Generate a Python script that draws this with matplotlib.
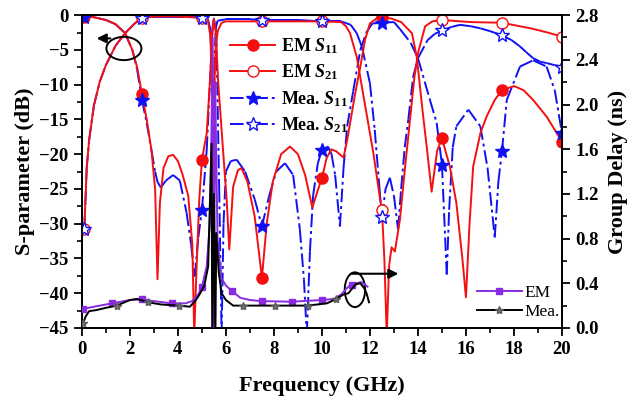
import numpy as np
import matplotlib
matplotlib.use("Agg")
import matplotlib.pyplot as plt
from matplotlib.collections import LineCollection
from matplotlib.lines import Line2D
from matplotlib.patches import Ellipse

plt.rcParams['font.family'] = 'Liberation Serif'
plt.rcParams['mathtext.fontset'] = 'custom'
plt.rcParams['mathtext.rm'] = 'Liberation Serif:bold'
plt.rcParams['mathtext.it'] = 'Liberation Serif:bold:italic'

# ---- S-parameters (dB) ----
em_s11_f = [0.1, 0.5, 1.0, 1.4, 1.8, 2.1, 2.3, 2.5, 2.7, 2.9, 3.05, 3.15, 3.25, 3.4, 3.6, 3.8,
            4.0, 4.2, 4.43, 4.6, 4.68, 4.78, 4.89, 5.0, 5.2, 5.33, 5.43, 5.5, 5.58, 5.68, 5.88,
            6.03, 6.14, 6.3, 6.5, 6.65, 6.9, 7.2, 7.5, 7.7, 7.95, 8.3, 8.67, 9.0, 9.3, 9.6, 9.8,
            10.0, 10.2, 10.4, 10.6, 10.9, 11.05, 11.2, 11.4, 11.6, 11.8, 12.0, 12.3, 12.5, 12.9,
            13.3, 13.75, 13.95, 14.2, 14.4, 14.57, 14.8, 15.0, 15.33, 15.6, 15.85, 16.0, 16.15,
            16.3, 16.6, 16.86, 17.2, 17.5, 18.0, 18.4, 18.8, 19.36, 19.7, 20.0]
em_s11_db = [-0.2, -0.3, -0.7, -1.3, -2.6, -5.0, -7.5, -11.3, -15.0, -19.5, -25, -38, -27, -22, -20.3, -20.1,
             -21, -23, -26, -33, -46, -36, -26.5, -20.8, -17, -9.8, -2.6, -0.5, -2.6, -9.8, -19.4,
             -26.5, -33.7, -24.7, -22.3, -22, -24, -29, -37.8, -30, -24, -20, -18.9, -20, -23, -27.7, -25.5,
             -23.4, -20.5, -19.3, -19.6, -20.5, -18, -15, -11, -7.4, -3.5, -1.2, -0.4, -0.3, -0.5,
             -1.0, -2.6, -6.0, -14, -20, -25.4, -19.5, -17.7, -21.8, -27, -35, -40.6, -30,
             -21.8, -17, -14.6, -12.2, -10.8, -10.2, -10.8, -12.2, -14.6, -16.5, -18.2]

em_s21_f = [0.1, 0.2, 0.3, 0.5, 0.75, 1.0, 1.4, 1.8, 2.2, 2.5, 3.0, 4.0, 5.0, 5.25, 5.35, 5.42, 5.47,
            5.52, 5.58, 5.67, 5.82, 6.0, 7.5, 10.0, 10.8, 11.0, 11.17, 11.45, 11.7, 11.9, 12.15,
            12.42, 12.5, 12.6, 12.7, 12.8, 12.9, 13.04, 13.25, 13.46, 13.67, 13.85, 14.0, 14.3,
            14.6, 15.0, 16.2, 17.5, 18.7, 19.4, 20.0]
em_s21_db = [-30.8, -22, -18, -13, -9.5, -7.2, -4.4, -2.6, -1.2, -0.4, -0.2, -0.2, -0.4, -0.7, -3, -10, -46,
             -10, -4, -2.2, -1.1, -0.9, -0.9, -0.9, -1.0, -1.6, -2.6, -6.0, -11, -15, -20,
             -26.4, -28, -35, -46, -36, -33.4, -34, -29.4, -22, -15, -9, -5.5, -1.6,
             -0.9, -0.7, -1.0, -1.1, -1.9, -2.5, -3.1]

mea_s11_f = [0.1, 0.5, 1.0, 1.4, 1.8, 2.1, 2.3, 2.5, 2.7, 2.9, 3.05, 3.15, 3.29, 3.5, 3.8, 4.08, 4.36,
             4.55, 4.7, 4.85, 5.0, 5.2, 5.33, 5.45, 5.5, 5.6, 5.72, 5.82, 5.9, 6.0, 6.2, 6.45, 6.8,
             7.2, 7.5, 7.8, 8.1, 8.46, 8.8, 9.08, 9.25, 9.37, 9.5, 9.63, 9.83, 10.0, 10.25, 10.4,
             10.55, 10.75, 10.9, 11.05, 11.3, 11.6, 11.85, 12.1, 12.5, 13.0, 13.25, 13.7, 14.0,
             14.5, 14.78, 15.0, 15.2, 15.3, 15.45, 15.6, 16.1, 16.6, 16.9, 17.2, 17.35, 17.5, 17.7,
             18.25, 18.8, 19.36, 19.7, 20.0]
mea_s11_db = [-0.2, -0.3, -0.7, -1.3, -2.6, -5.0, -7.8, -12.2, -15.5, -19.5, -22.5, -24, -24.8, -23.8, -23, -23.8, -28.4,
              -33, -37.6, -32, -28, -19.4, -10, -1.5, -0.5, -2.6, -25, -46, -30, -22.5, -21, -20.8, -22.5,
              -26.5, -30.4, -26, -22.5, -21.3, -23, -30.8, -38, -46, -34, -26, -21.3, -19.4, -18.9, -20,
              -23, -30.4, -22, -16, -11, -5.0, -2.5, -1.2, -1.1, -1.0, -2.0, -4.0, -6.2,
              -12.2, -15.5, -21.5, -37.3, -28, -19, -16, -13.6, -16, -22, -32, -24, -19.6, -12.2,
              -7.4, -6.5, -7.4, -10.8, -17]

mea_s21_f = [0.1, 0.2, 0.3, 0.5, 0.75, 1.0, 1.4, 1.8, 2.2, 2.5, 2.9, 3.3, 3.7, 4.1, 4.5, 5.0, 5.25, 5.35,
             5.42, 5.47, 5.52, 5.57, 5.65, 6.0, 6.5, 7.0, 7.5, 8.0, 8.5, 9.0, 9.5, 10.0, 10.4, 10.8,
             11.2, 11.45, 11.67, 12.0, 12.2, 12.4, 12.5, 12.65, 12.83, 13.0, 13.17, 13.3, 13.45, 13.6,
             13.8, 14.0, 14.4, 14.7, 15.0, 15.4, 15.75, 16.2, 16.6, 17.0, 17.5, 17.9, 18.25, 18.5,
             18.8, 19.1, 19.36, 19.7, 20.0]
mea_s21_db = [-30.8, -22, -18, -13, -9.5, -7.2, -4.4, -2.6, -1.2, -0.4, -0.2, -0.2, -0.2, -0.2, -0.2, -0.4, -0.6, -2,
              -8, -46, -8, -2, -0.8, -0.6, -0.6, -0.6, -0.7, -0.7, -0.7, -0.7, -0.8, -0.9, -0.9, -0.9,
              -1.4, -2.6, -4.6, -9.8, -16.5, -25, -29.1, -25, -23.4, -26, -30.8, -25, -19, -15,
              -8.9, -6.2, -3.6, -2.7, -2.2, -1.7, -1.4, -1.6, -1.9, -2.3, -2.9, -3.6, -4.5, -5.3,
              -6.2, -6.7, -6.9, -7.2, -7.4]
s_marks = [0.1, 2.5, 5.0, 7.5, 10.0, 12.5, 15.0, 17.5, 20.0]

# ---- group delay (ns) ----
gd_em_f = [0.05, 0.5, 1.25, 2.0, 2.5, 3.0, 3.75, 4.3, 4.6, 4.85, 5.0, 5.2, 5.35, 5.45, 5.5, 5.55, 5.65,
           5.8, 6.0, 6.25, 6.6, 7.0, 7.5, 8.75, 10.0, 10.5, 10.8, 11.1, 11.25, 11.4, 11.65, 11.9]
gd_em_ns = [0.17, 0.19, 0.22, 0.25, 0.255, 0.24, 0.22, 0.22, 0.24, 0.3, 0.37, 0.55, 1.0, 2.6, -0.1, 2.2, 0.8,
            0.45, 0.38, 0.33, 0.27, 0.25, 0.24, 0.235, 0.25, 0.26, 0.3, 0.37, 0.385, 0.40, 0.41, 0.37]
gd_em_marks = [0.05, 1.25, 2.5, 3.75, 5.0, 6.25, 7.5, 8.75, 10.0, 11.25]

gd_mea_f = [0.05, 0.15, 0.3, 0.6, 1.0, 1.45, 2.0, 2.3, 2.75, 3.3, 4.05, 4.5, 4.75, 4.9, 5.1, 5.26, 5.4,
            5.43, 5.5, 5.56, 5.6, 5.7, 5.82, 6.0, 6.3, 6.7, 7.4, 8.05, 9.4, 10.2, 10.6, 10.9, 11.1,
            11.4, 11.6, 11.75, 11.86, 11.96]
gd_mea_ns = [0.04, 0.1, 0.15, 0.16, 0.18, 0.2, 0.25, 0.26, 0.23, 0.21, 0.2, 0.19, 0.25, 0.3, 0.38, 0.55, 1.65,
             -0.1, 1.2, -0.1, 0.85, 0.5, 0.31, 0.25, 0.2, 0.2, 0.2, 0.2, 0.2, 0.22, 0.26, 0.3, 0.31,
             0.39, 0.40, 0.36, 0.31, 0.23]
gd_mea_marks = [0.05, 1.45, 2.75, 4.05, 6.7, 8.05, 9.4, 10.6]

RED = '#f41010'
BLUE = '#1010f4'
PURPLE = '#8a2be2'
DASHDOT = (0, (7, 2, 1.5, 2))


def mark_idx(f, marks):
    return [i for i, v in enumerate(f) if any(abs(v - m) < 1e-9 for m in marks)]


def dashed_segments(ax, f, y, color, lw=1.4, z=2):
    # every segment gets its own dash pattern, so dense parts look solid
    pts = np.column_stack([f, y])
    segs = np.stack([pts[:-1], pts[1:]], axis=1)
    lc = LineCollection(segs, colors=color, linewidths=lw, linestyles=[DASHDOT], zorder=z)
    ax.add_collection(lc)


fig = plt.figure(figsize=(6.3, 3.98), dpi=100)
ax = fig.add_axes([0.130, 0.176, 0.762, 0.786])

ax.plot(em_s11_f, em_s11_db, color=RED, lw=1.4, marker='o', ms=8,
        markevery=mark_idx(em_s11_f, s_marks), zorder=3)
ax.plot(em_s21_f, em_s21_db, color=RED, lw=1.4, marker='o', ms=8, mfc='white', mec=RED,
        markevery=mark_idx(em_s21_f, s_marks), zorder=3)

dashed_segments(ax, mea_s11_f, mea_s11_db, BLUE)
dashed_segments(ax, mea_s21_f, mea_s21_db, BLUE)
i = mark_idx(mea_s11_f, s_marks)
ax.plot(np.array(mea_s11_f)[i], np.array(mea_s11_db)[i], ls='none', marker='*', ms=10,
        color=BLUE, zorder=4)
i = mark_idx(mea_s21_f, s_marks)
ax.plot(np.array(mea_s21_f)[i], np.array(mea_s21_db)[i], ls='none', marker='*', ms=10,
        mfc='white', mec=BLUE, mew=1.0, zorder=4)

ax.set_xlim(0, 20)
ax.set_ylim(-45, 0)
ax.set_xticks(np.arange(0, 21, 2))
ax.set_xticks(np.arange(0, 21, 1), minor=True)
ax.set_yticks(np.arange(-45, 1, 5))
ax.set_yticks(np.arange(-45, 0.1, 2.5), minor=True)
ax.set_xlabel('Frequency (GHz)', fontsize=16, fontweight='bold', labelpad=13)
ax.set_ylabel('S-parameter (dB)', fontsize=16, fontweight='bold', labelpad=3)

# annotations
ax.add_patch(Ellipse((1.75, -4.8), 1.46, 3.35, fill=False, ec='black', lw=1.4, zorder=5))
ax.annotate('', xy=(0.5, -3.35), xytext=(1.3, -3.35),
            arrowprops=dict(arrowstyle='-|>', color='black', lw=1.5, mutation_scale=14))
ax.add_patch(Ellipse((11.375, -39.5), 0.85, 5.0, fill=False, ec='black', lw=1.4, zorder=5))
ax.annotate('', xy=(13.3, -37.2), xytext=(11.1, -37.2),
            arrowprops=dict(arrowstyle='-|>', color='black', lw=1.5, mutation_scale=14))

h = [Line2D([], [], color=RED, lw=1.4, marker='o', ms=8),
     Line2D([], [], color=RED, lw=1.4, marker='o', ms=8, mfc='white', mec=RED),
     Line2D([], [], color=BLUE, lw=1.4, ls=DASHDOT, marker='*', ms=10),
     Line2D([], [], color=BLUE, lw=1.4, ls=DASHDOT, marker='*', ms=10, mfc='white', mec=BLUE)]
ax.legend(h, ['EM $S_{11}$', 'EM $S_{21}$', 'Mea. $S_{11}$', 'Mea. $S_{21}$'],
          loc='upper left', bbox_to_anchor=(0.275, 0.985), frameon=False, numpoints=1,
          handlelength=2.5, handletextpad=0.3, labelspacing=0.38,
          prop={'size': 13, 'weight': 'bold'})

ax2 = ax.twinx()
ax2.plot(gd_em_f, gd_em_ns, color=PURPLE, lw=1.4, marker='s', ms=5,
         markevery=mark_idx(gd_em_f, gd_em_marks), zorder=3)
ax2.plot(gd_mea_f, gd_mea_ns, color='black', lw=1.4, marker='*', ms=6, mfc='0.45', mec='0.35',
         markevery=mark_idx(gd_mea_f, gd_mea_marks), zorder=4)
ax2.set_ylim(0, 2.8)
ax2.set_yticks(np.arange(0, 2.81, 0.4))
ax2.set_yticks(np.arange(0, 2.81, 0.2), minor=True)
ax2.set_yticklabels([f'{v:.1f}' for v in np.arange(0, 2.81, 0.4)])
ax2.set_ylabel('Group Delay (ns)', fontsize=16, fontweight='bold', labelpad=7)
ax2.legend(['EM', 'Mea.'], loc='lower left', bbox_to_anchor=(0.79, -0.025), frameon=False,
           handlelength=2.6, handletextpad=0.15, labelspacing=0.15, prop={'size': 12.5})

for a in (ax, ax2):
    a.tick_params(which='major', direction='out', length=6, width=1.3, labelsize=13.5)
    a.tick_params(which='minor', direction='out', length=3.5, width=1.2)
    for lab in a.get_xticklabels() + a.get_yticklabels():
        lab.set_fontweight('bold')
    for s in a.spines.values():
        s.set_linewidth(1.3)

fig.savefig('out.png', dpi=100)
